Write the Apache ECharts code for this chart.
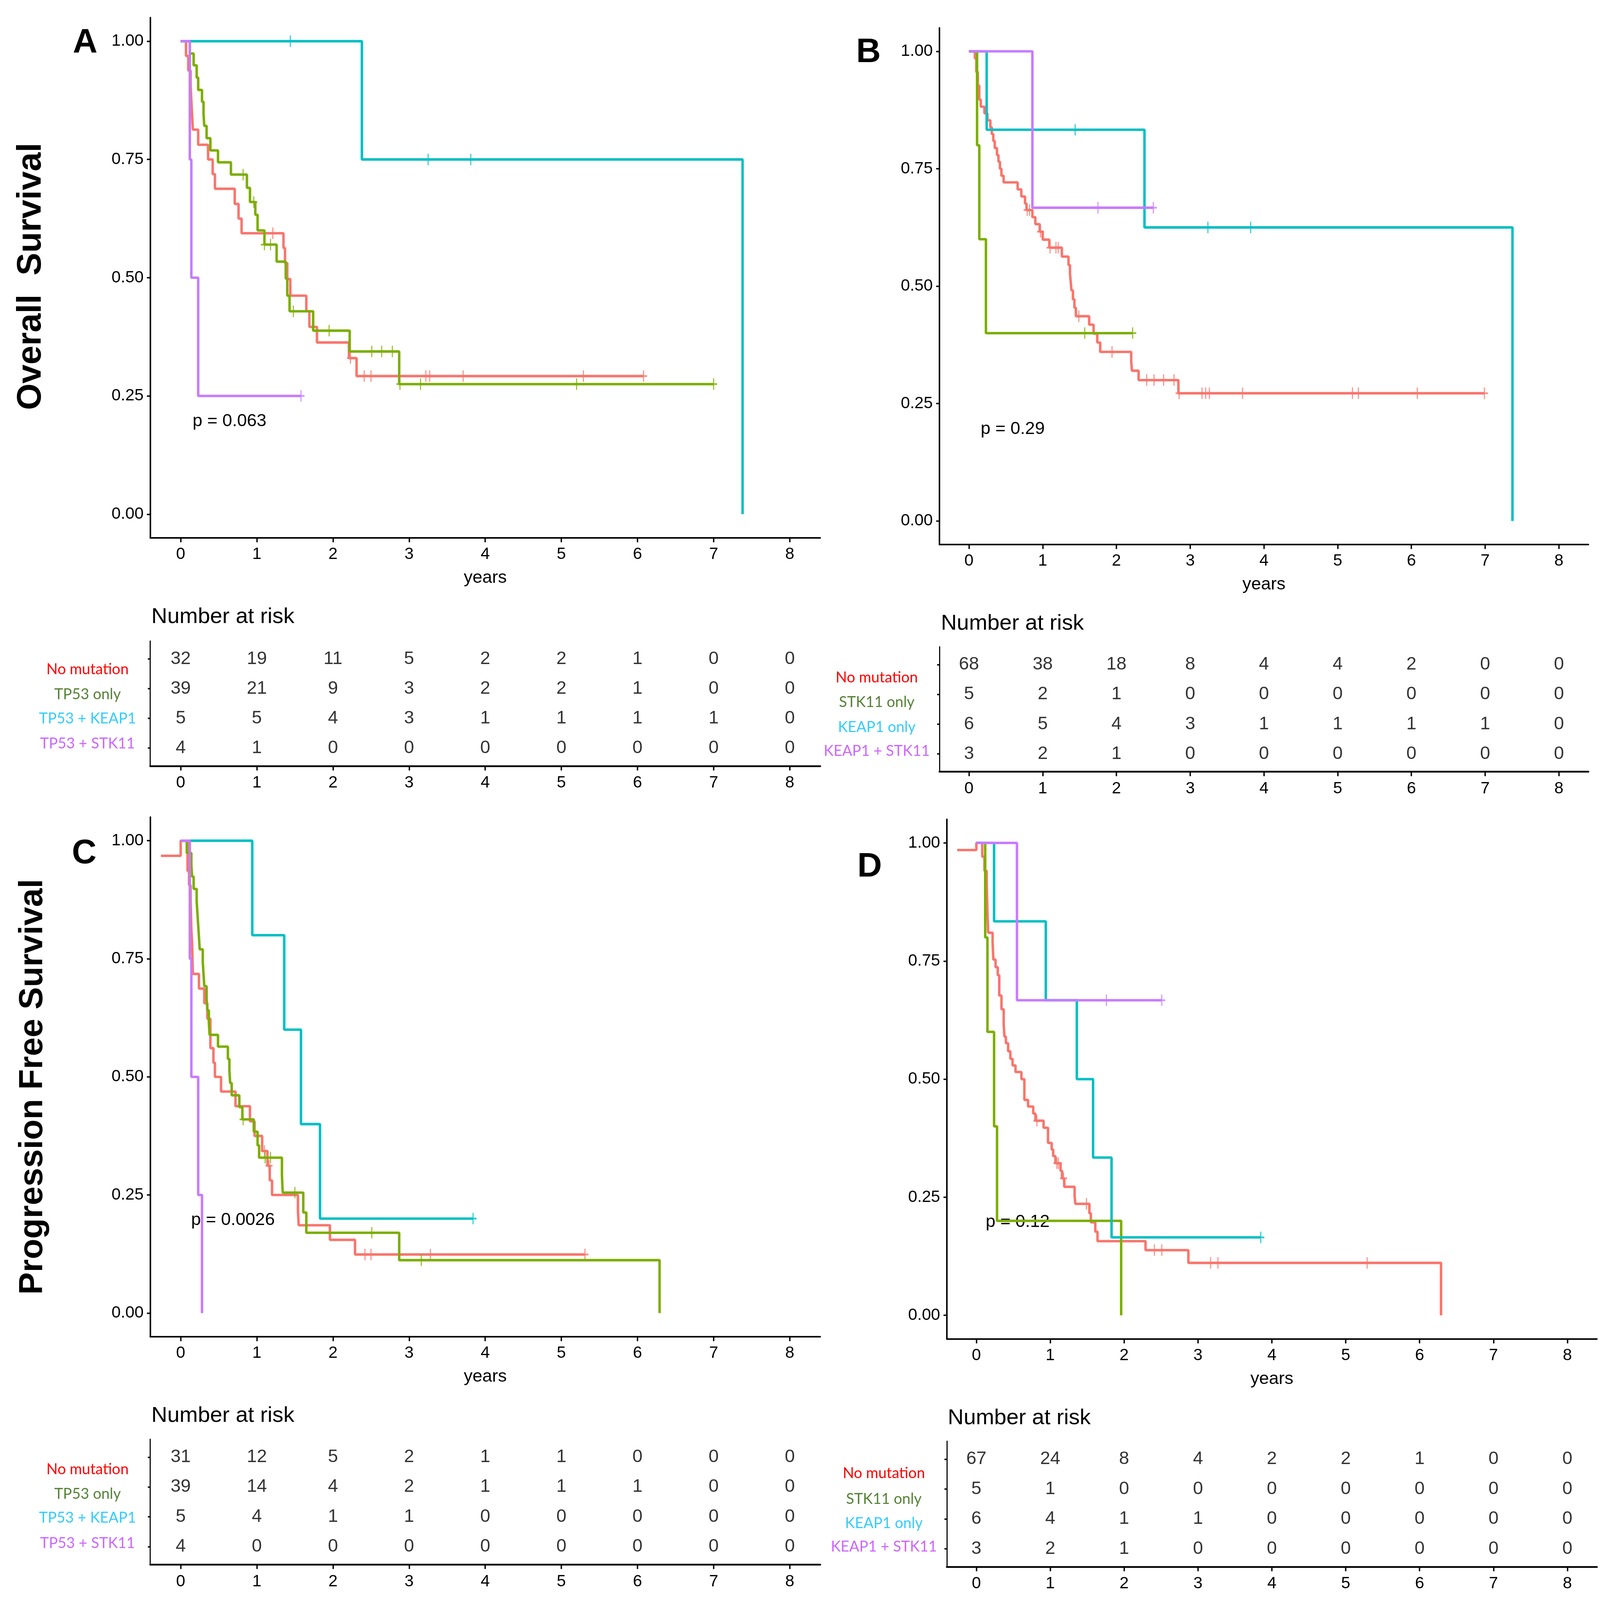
<!DOCTYPE html>
<html>
<head>
<meta charset="utf-8">
<script src="https://cdn.jsdelivr.net/npm/echarts@6/dist/echarts.min.js"></script>
<style>
html, body { margin: 0; padding: 0; background: #fff; overflow: hidden; }
#chart { position: absolute; left: 0; top: 0; }
</style>
</head>
<body>
<div id="chart"></div>
<script>
// tick values
const years = [0, 1, 2, 3, 4, 5, 6, 7, 8];
const survTicks = [0, 0.25, 0.5, 0.75, 1];

// group names
const groupsA = ['No mutation', 'TP53 only', 'TP53 + KEAP1', 'TP53 + STK11'];
const groupsB = ['No mutation', 'STK11 only', 'KEAP1 only', 'KEAP1 + STK11'];

// number at risk (rows follow the group order)
const riskA = [[32, 19, 11, 5, 2, 2, 1, 0, 0], [39, 21, 9, 3, 2, 2, 1, 0, 0], [5, 5, 4, 3, 1, 1, 1, 1, 0], [4, 1, 0, 0, 0, 0, 0, 0, 0]];
const riskB = [[68, 38, 18, 8, 4, 4, 2, 0, 0], [5, 2, 1, 0, 0, 0, 0, 0, 0], [6, 5, 4, 3, 1, 1, 1, 1, 0], [3, 2, 1, 0, 0, 0, 0, 0, 0]];
const riskC = [[31, 12, 5, 2, 1, 1, 0, 0, 0], [39, 14, 4, 2, 1, 1, 1, 0, 0], [5, 4, 1, 1, 0, 0, 0, 0, 0], [4, 0, 0, 0, 0, 0, 0, 0, 0]];
const riskD = [[67, 24, 8, 4, 2, 2, 1, 0, 0], [5, 1, 0, 0, 0, 0, 0, 0, 0], [6, 4, 1, 1, 0, 0, 0, 0, 0], [3, 2, 1, 0, 0, 0, 0, 0, 0]];

// KM steps [years, survival after the step]
const A_noMut = [[0, 1], [0.07, 0.969], [0.10, 0.938], [0.13, 0.906], [0.14, 0.875], [0.15, 0.844], [0.16, 0.813], [0.23, 0.781], [0.36, 0.75], [0.42, 0.719], [0.45, 0.688], [0.71, 0.656], [0.76, 0.625], [0.80, 0.594], [1.35, 0.563], [1.37, 0.531], [1.40, 0.497], [1.44, 0.462], [1.65, 0.429], [1.69, 0.396], [1.79, 0.363], [2.21, 0.33], [2.31, 0.292], [6.08, 0.292]];
const A_tp53 = [[0, 1], [0.12, 0.974], [0.17, 0.949], [0.21, 0.923], [0.23, 0.897], [0.28, 0.872], [0.30, 0.846], [0.31, 0.821], [0.34, 0.795], [0.39, 0.769], [0.49, 0.744], [0.66, 0.718], [0.87, 0.69], [0.91, 0.66], [0.98, 0.633], [1.01, 0.60], [1.10, 0.57], [1.26, 0.534], [1.38, 0.498], [1.40, 0.462], [1.43, 0.429], [1.74, 0.388], [2.22, 0.344], [2.87, 0.275], [7.0, 0.275]];
const A_keap1 = [[0, 1], [2.38, 0.75], [7.38, 0]];
const A_stk11 = [[0, 1], [0.12, 0.75], [0.14, 0.5], [0.23, 0.25], [1.58, 0.25]];
const A_noMutCens = [1.21, 2.23, 2.41, 2.50, 3.22, 3.27, 3.71, 5.29, 6.08];
const A_tp53Cens = [0.82, 0.96, 1.10, 1.18, 1.48, 1.95, 2.51, 2.64, 2.78, 2.88, 3.15, 5.20, 7.0];
const A_keap1Cens = [1.44, 3.25, 3.81];
const A_stk11Cens = [1.58];

const B_noMut = [[0, 1], [0.08, 0.985], [0.10, 0.956], [0.12, 0.927], [0.14, 0.897], [0.16, 0.882], [0.21, 0.868], [0.25, 0.853], [0.29, 0.838], [0.31, 0.824], [0.33, 0.809], [0.35, 0.794], [0.38, 0.779], [0.40, 0.765], [0.42, 0.750], [0.44, 0.735], [0.47, 0.721], [0.66, 0.706], [0.71, 0.691], [0.76, 0.676], [0.78, 0.662], [0.86, 0.647], [0.90, 0.632], [0.96, 0.616], [1.00, 0.599], [1.09, 0.582], [1.26, 0.563], [1.35, 0.545], [1.37, 0.527], [1.38, 0.509], [1.39, 0.491], [1.41, 0.472], [1.43, 0.454], [1.45, 0.436], [1.63, 0.418], [1.69, 0.399], [1.74, 0.38], [1.78, 0.36], [2.20, 0.34], [2.21, 0.32], [2.30, 0.30], [2.84, 0.272], [6.99, 0.272]];
const B_stk11 = [[0, 1], [0.11, 0.8], [0.14, 0.6], [0.23, 0.4], [2.22, 0.4]];
const B_keap1 = [[0, 1], [0.24, 0.833], [2.38, 0.625], [7.37, 0]];
const B_both = [[0, 1], [0.86, 0.667], [2.50, 0.667]];
const B_noMutCens = [0.79, 0.82, 0.97, 1.10, 1.18, 1.21, 1.49, 1.94, 2.41, 2.51, 2.64, 2.78, 2.85, 3.16, 3.21, 3.26, 3.71, 5.20, 5.28, 6.08, 6.99];
const B_stk11Cens = [1.57, 2.22];
const B_keap1Cens = [1.44, 3.24, 3.82];
const B_bothCens = [1.75, 2.50];

const C_noMut = [[-0.26, 0.968], [0, 1], [0.09, 0.936], [0.11, 0.906], [0.13, 0.875], [0.14, 0.813], [0.15, 0.782], [0.16, 0.718], [0.24, 0.687], [0.31, 0.656], [0.35, 0.623], [0.39, 0.561], [0.43, 0.53], [0.45, 0.50], [0.53, 0.469], [0.72, 0.438], [0.91, 0.406], [0.97, 0.375], [1.07, 0.343], [1.14, 0.312], [1.17, 0.281], [1.20, 0.25], [1.54, 0.218], [1.55, 0.186], [1.96, 0.155], [2.29, 0.124], [5.31, 0.124]];
const C_tp53 = [[0, 1], [0.08, 0.974], [0.14, 0.949], [0.15, 0.924], [0.17, 0.898], [0.21, 0.872], [0.22, 0.846], [0.23, 0.821], [0.24, 0.796], [0.25, 0.77], [0.29, 0.744], [0.30, 0.718], [0.31, 0.692], [0.34, 0.667], [0.35, 0.641], [0.37, 0.615], [0.38, 0.589], [0.49, 0.564], [0.62, 0.538], [0.64, 0.513], [0.65, 0.487], [0.67, 0.461], [0.77, 0.436], [0.81, 0.41], [0.96, 0.384], [1.01, 0.355], [1.03, 0.329], [1.33, 0.291], [1.34, 0.255], [1.61, 0.213], [1.65, 0.17], [2.87, 0.112], [6.29, 0]];
const C_keap1 = [[0, 1], [0.94, 0.8], [1.36, 0.6], [1.58, 0.4], [1.83, 0.2], [3.84, 0.2]];
const C_stk11 = [[0, 1], [0.12, 0.75], [0.14, 0.5], [0.23, 0.25], [0.28, 0]];
const C_noMutCens = [1.10, 1.16, 2.42, 2.50, 3.28, 5.31];
const C_tp53Cens = [0.82, 1.11, 1.18, 1.50, 2.51, 3.16];
const C_keap1Cens = [3.84];
const C_stk11Cens = [];

const D_noMut = [[-0.26, 0.985], [0, 1], [0.08, 0.971], [0.11, 0.941], [0.14, 0.916], [0.15, 0.854], [0.16, 0.81], [0.22, 0.79], [0.23, 0.753], [0.26, 0.737], [0.29, 0.72], [0.31, 0.677], [0.34, 0.648], [0.37, 0.617], [0.38, 0.59], [0.40, 0.576], [0.43, 0.559], [0.46, 0.543], [0.49, 0.529], [0.53, 0.515], [0.61, 0.50], [0.65, 0.456], [0.70, 0.442], [0.77, 0.427], [0.80, 0.412], [0.91, 0.397], [0.97, 0.365], [1.02, 0.351], [1.04, 0.337], [1.07, 0.322], [1.14, 0.306], [1.16, 0.29], [1.19, 0.272], [1.33, 0.253], [1.34, 0.236], [1.53, 0.216], [1.55, 0.197], [1.61, 0.177], [1.64, 0.157], [2.29, 0.138], [2.87, 0.111], [6.29, 0]];
const D_stk11 = [[0, 1], [0.12, 0.8], [0.15, 0.6], [0.24, 0.4], [0.28, 0.2], [1.96, 0]];
const D_keap1 = [[0, 1], [0.24, 0.834], [0.94, 0.667], [1.36, 0.5], [1.58, 0.334], [1.83, 0.165], [3.85, 0.165]];
const D_both = [[0, 1], [0.55, 0.667], [2.51, 0.667]];
const D_noMutCens = [0.82, 1.09, 1.11, 1.18, 1.49, 2.41, 2.51, 3.17, 3.27, 5.29];
const D_stk11Cens = [];
const D_keap1Cens = [3.85];
const D_bothCens = [1.76, 2.51];

const pValues = ['p = 0.063', 'p = 0.29', 'p = 0.0026', 'p = 0.12'];

// layout is measured on the 6763 x 5007 figure and stretched to the window
const W = 6763, H = 5007;
const sx = window.innerWidth / W;
const sy = window.innerHeight / H;
const sf = Math.sqrt(sx * sy);
const X = v => v * sx;
const Y = v => v * sy;
const F = v => v * sf;

const curveColors = ['#F8766D', '#7CAE00', '#00BFC4', '#C77CFF'];
const labelColors = ['#FF0000', '#548235', '#33CCFF', '#CC66FF'];
const AX = '"Liberation Sans", Arial, sans-serif';
const LB = 'Lato, "Open Sans", sans-serif';

// [left, top, width, height]
const kmGrids = [
  [635, 55, 2832, 1628],
  [3971, 87, 2743, 1617],
  [635, 2557, 2832, 1626],
  [4002, 2564, 2748, 1626]
];
const tableGrids = [
  [635, 2006, 2832, 391],
  [3971, 2024, 2743, 391],
  [635, 4504, 2832, 392],
  [4002, 4510, 2748, 393]
];

const panels = [
  { curves: [A_noMut, A_tp53, A_keap1, A_stk11], cens: [A_noMutCens, A_tp53Cens, A_keap1Cens, A_stk11Cens], risk: riskA, groups: groupsA },
  { curves: [B_noMut, B_stk11, B_keap1, B_both], cens: [B_noMutCens, B_stk11Cens, B_keap1Cens, B_bothCens], risk: riskB, groups: groupsB },
  { curves: [C_noMut, C_tp53, C_keap1, C_stk11], cens: [C_noMutCens, C_tp53Cens, C_keap1Cens, C_stk11Cens], risk: riskC, groups: groupsA },
  { curves: [D_noMut, D_stk11, D_keap1, D_both], cens: [D_noMutCens, D_stk11Cens, D_keap1Cens, D_bothCens], risk: riskD, groups: groupsB }
];

// survival value of a step curve at time t (for the censor ticks)
function survAt(steps, t) {
  let v = steps[0][1];
  for (const [x, y] of steps) {
    if (x <= t + 1e-9) v = y;
  }
  return v;
}

const el = document.getElementById('chart');
el.style.width = window.innerWidth + 'px';
el.style.height = window.innerHeight + 'px';

const toGrid = g => ({ left: X(g[0]), top: Y(g[1]), width: X(g[2]), height: Y(g[3]) });
const axisLine = w => ({ show: true, onZero: false, lineStyle: { color: '#000', width: F(w) } });
const tick = (vals, len) => ({ show: true, customValues: vals, length: len, lineStyle: { color: '#000', width: F(5) } });

const grid = [];
const xAxis = [];
const yAxis = [];
const series = [];

kmGrids.forEach((g, i) => {
  grid.push(toGrid(g));
  xAxis.push({
    type: 'value', gridIndex: i, min: -0.4, max: 8.4,
    name: 'years', nameLocation: 'middle', nameGap: Y(98),
    nameTextStyle: { fontSize: F(64), fontFamily: AX, color: '#000' },
    axisLine: axisLine(5.5),
    axisTick: tick(years, Y(14)),
    axisLabel: { customValues: years, margin: Y(26), fontSize: F(60), fontFamily: AX, color: '#000' },
    splitLine: { show: false }
  });
  yAxis.push({
    type: 'value', gridIndex: i, min: -0.05, max: 1.05,
    axisLine: axisLine(5.5),
    axisTick: tick(survTicks, X(14)),
    axisLabel: { customValues: survTicks, margin: X(28), fontSize: F(60), fontFamily: AX, color: '#000', formatter: v => v.toFixed(2) },
    splitLine: { show: false }
  });
});

tableGrids.forEach((g, i) => {
  grid.push(toGrid(g));
  xAxis.push({
    type: 'value', gridIndex: 4 + i, min: -0.4, max: 8.4,
    axisLine: axisLine(6.5),
    axisTick: tick(years, Y(14)),
    axisLabel: { customValues: years, margin: Y(28), fontSize: F(60), fontFamily: AX, color: '#000' },
    splitLine: { show: false }
  });
  yAxis.push({
    type: 'value', gridIndex: 4 + i, min: 0.4, max: 4.6,
    axisLine: axisLine(4),
    axisTick: tick([1, 2, 3, 4], X(10)),
    axisLabel: { show: false },
    splitLine: { show: false }
  });
});

const plusSymbol = 'path://M10,0L10,20M0,10L20,10';

panels.forEach((p, i) => {
  p.curves.forEach((steps, g) => {
    series.push({
      type: 'line', step: 'end', xAxisIndex: i, yAxisIndex: i,
      data: steps, showSymbol: false, symbol: 'none',
      lineStyle: { color: curveColors[g], width: F(9) },
      z: 2 + g
    });
  });
  p.cens.forEach((times, g) => {
    series.push({
      type: 'scatter', xAxisIndex: i, yAxisIndex: i,
      data: times.map(t => [t, survAt(p.curves[g], t)]),
      symbol: plusSymbol, symbolSize: [X(30), Y(36)],
      itemStyle: { color: 'rgba(0,0,0,0)', borderColor: curveColors[g], borderWidth: F(5) },
      z: 2 + g
    });
  });
  const cells = [];
  p.risk.forEach((row, g) => {
    row.forEach((n, k) => cells.push([years[k], 4 - g, n]));
  });
  series.push({
    type: 'scatter', xAxisIndex: 4 + i, yAxisIndex: 4 + i,
    data: cells, symbolSize: 1,
    itemStyle: { color: 'rgba(0,0,0,0)' },
    label: { show: true, position: 'inside', formatter: d => String(d.value[2]), fontSize: F(66), fontFamily: AX, color: '#000' }
  });
});

// texts around the plots
const graphic = [];
function txt(text, x, y, size, family, fill, align, bold, rotation) {
  graphic.push({
    type: 'text', x: X(x), y: Y(y), rotation: rotation || 0,
    style: {
      text: text, fontSize: F(size), fontFamily: family, fontWeight: bold ? 'bold' : 'normal',
      fill: fill, textAlign: align, textVerticalAlign: 'middle'
    }
  });
}

const letterPos = [[360, 135], [3671, 165], [356, 2672], [3676, 2714]];
['A', 'B', 'C', 'D'].forEach((l, i) => txt(l, letterPos[i][0], letterPos[i][1], 124, AX, '#000', 'center', true));

txt('Overall  Survival', 132, 865, 124, AX, '#000', 'center', true, Math.PI / 2);
txt('Progression Free Survival', 140, 3401, 122, AX, '#000', 'center', true, Math.PI / 2);

const pPos = [[814, 1318], [4145, 1343], [808, 3818], [4166, 3824]];
pValues.forEach((t, i) => txt(t, pPos[i][0], pPos[i][1], 64, AX, '#000', 'left'));

const riskTitlePos = [[640, 1931], [3977, 1952], [640, 4430], [4006, 4438]];
riskTitlePos.forEach(pos => txt('Number at risk', pos[0], pos[1], 80, AX, '#000', 'left'));

const groupLabelX = [370, 3706, 370, 3736];
const groupLabelY = [[2095, 2173, 2249, 2327], [2120, 2197, 2276, 2351], [4598, 4676, 4750, 4830], [4611, 4691, 4767, 4841]];
panels.forEach((p, i) => {
  p.groups.forEach((name, g) => txt(name, groupLabelX[i], groupLabelY[i][g], 54, LB, labelColors[g], 'center'));
});

const chart = echarts.init(el);
chart.setOption({
  animation: false,
  backgroundColor: '#fff',
  grid: grid,
  xAxis: xAxis,
  yAxis: yAxis,
  series: series,
  graphic: graphic
});
</script>
</body>
</html>
